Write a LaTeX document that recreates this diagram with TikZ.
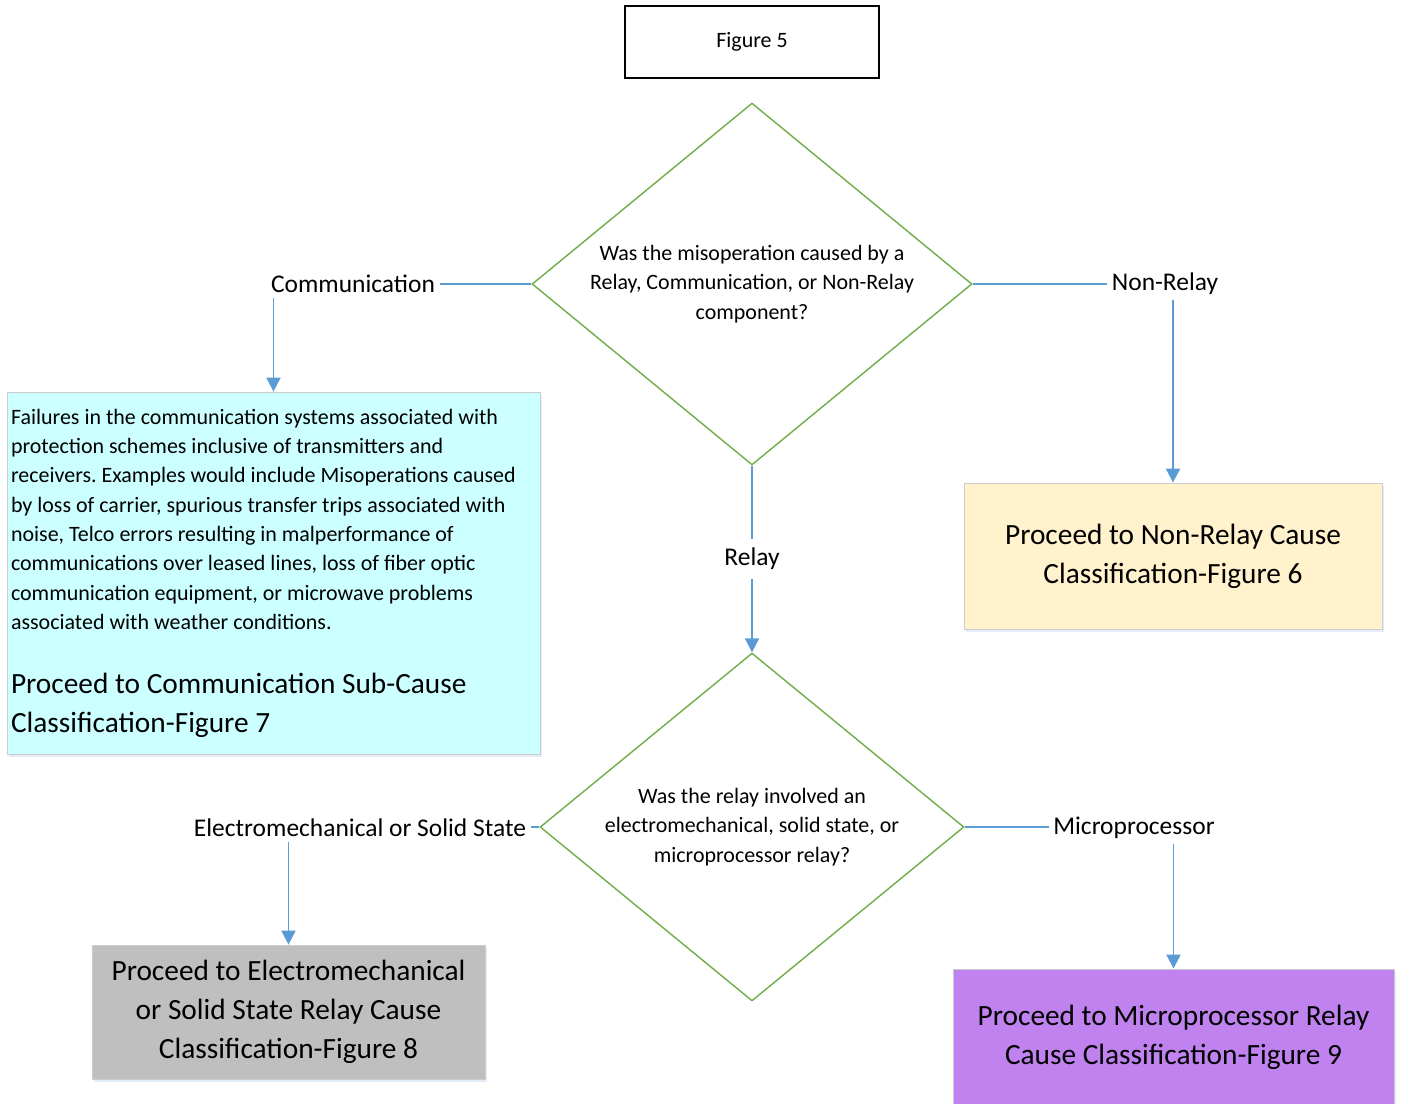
\documentclass[tikz,border=0pt]{standalone}
\usepackage{fontspec}
\setmainfont{Carlito}
\usetikzlibrary{shapes.geometric,arrows.meta,shadows}

\definecolor{flowblue}{HTML}{5B9BD5}
\definecolor{flowgreen}{HTML}{70AD47}
\definecolor{commcyan}{HTML}{CCFFFF}
\definecolor{nonrelaycream}{HTML}{FFF2CC}
\definecolor{emsgray}{HTML}{BFBFBF}
\definecolor{micropurple}{HTML}{BF82EF}

\newcommand{\bodyfont}{\fontsize{12.5}{16.7}\selectfont}
\newcommand{\bigfont}{\fontsize{16.7}{22.1}\selectfont}
\newcommand{\branchfont}{\fontsize{14.5}{17}\selectfont}

\tikzset{
  decision/.style={diamond, draw=flowgreen, line width=0.8pt, inner sep=0pt,
    align=center, font=\bodyfont},
  outcome/.style={rectangle, draw=black!20, line width=0.5pt, inner sep=0pt,
    align=center, font=\bigfont,
    drop shadow={shadow xshift=1.2pt, shadow yshift=-1.5pt, fill=flowblue!30, opacity=0.6}},
  branch/.style={font=\branchfont, inner sep=2.5pt},
  link/.style={flowblue, line width=1.1pt},
  arr/.style={link, -{Triangle[width=8pt,length=8pt]}}
}

\begin{document}
\begin{tikzpicture}[x=0.02cm, y=-0.02cm]
  \useasboundingbox (0,0) rectangle (1402,1103);

  % Start
  \node[draw=black, line width=0.8pt, minimum width=5.08cm, minimum height=1.44cm,
        font=\bodyfont] (fig5) at (752,42) {Figure 5};

  % Questions
  \node[decision, aspect=1.215, minimum width=8.8cm, minimum height=7.24cm] (q1) at (752,284)
    {Was the misoperation caused by a\\Relay, Communication, or Non-Relay\\component?};
  \node[decision, aspect=1.218, minimum width=8.48cm, minimum height=6.96cm] (q2) at (752,827)
    {Was the relay involved an\\electromechanical, solid state, or\\microprocessor relay?};

  % Branch labels
  \node[branch] (comm) at (353,284) {Communication};
  \node[branch] (nonrel) at (1165,284) {Non-Relay};
  \node[branch, inner sep=5pt] (relay) at (752,559) {Relay};
  \node[branch] (ems) at (360,828) {Electromechanical or Solid State};
  \node[branch] (micro) at (1134,828) {Microprocessor};

  % Outcome boxes
  \node[outcome, fill=commcyan, minimum width=10.66cm, minimum height=7.24cm,
        text width=10.5cm, align=flush left, font=\bigfont\frenchspacing]
    (commbox) at (273.5,573)
    {{\bodyfont Failures in the communication systems associated with\\
      protection schemes inclusive of transmitters and\\
      receivers. Examples would include Misoperations caused\\
      by loss of carrier, spurious transfer trips associated with\\
      noise, Telco errors resulting in malperformance of\\
      communications over leased lines, loss of fiber optic\\
      communication equipment, or microwave problems\\
      associated with weather conditions.\par}
     \vspace{14.2pt}
     {\bigfont Proceed to Communication Sub-Cause\\
      Classification-Figure 7\par}};
  \node[outcome, fill=nonrelaycream, minimum width=8.36cm, minimum height=2.92cm]
    (nonrelbox) at (1173,556) {Proceed to Non-Relay Cause\\Classification-Figure 6};
  \node[outcome, fill=emsgray, minimum width=7.86cm, minimum height=2.68cm]
    (emsbox) at (288.5,1012)
    {Proceed to Electromechanical\\or Solid State Relay Cause\\Classification-Figure 8};
  \node[outcome, fill=micropurple, minimum width=8.82cm, minimum height=2.74cm]
    (microbox) at (1173.5,1037.5)
    {Proceed to Microprocessor Relay\\Cause Classification-Figure 9};

  % Connectors
  \draw[link] (q1.west) -- (q1.west -| comm.east);
  \draw[arr] (comm.south -| commbox.north) -- (commbox.north);
  \draw[link] (q1.east) -- (q1.east -| nonrel.west);
  \draw[arr] (nonrel.south -| nonrelbox.north) -- (nonrelbox.north);
  \draw[link] (q1.south) -- (relay.north);
  \draw[arr] (relay.south) -- (q2.north);
  \draw[link] (q2.west) -- (q2.west -| ems.east);
  \draw[arr] (ems.south -| emsbox.north) -- (emsbox.north);
  \draw[link] (q2.east) -- (q2.east -| micro.west);
  \draw[arr] (micro.south -| microbox.north) -- (microbox.north);
\end{tikzpicture}
\end{document}
